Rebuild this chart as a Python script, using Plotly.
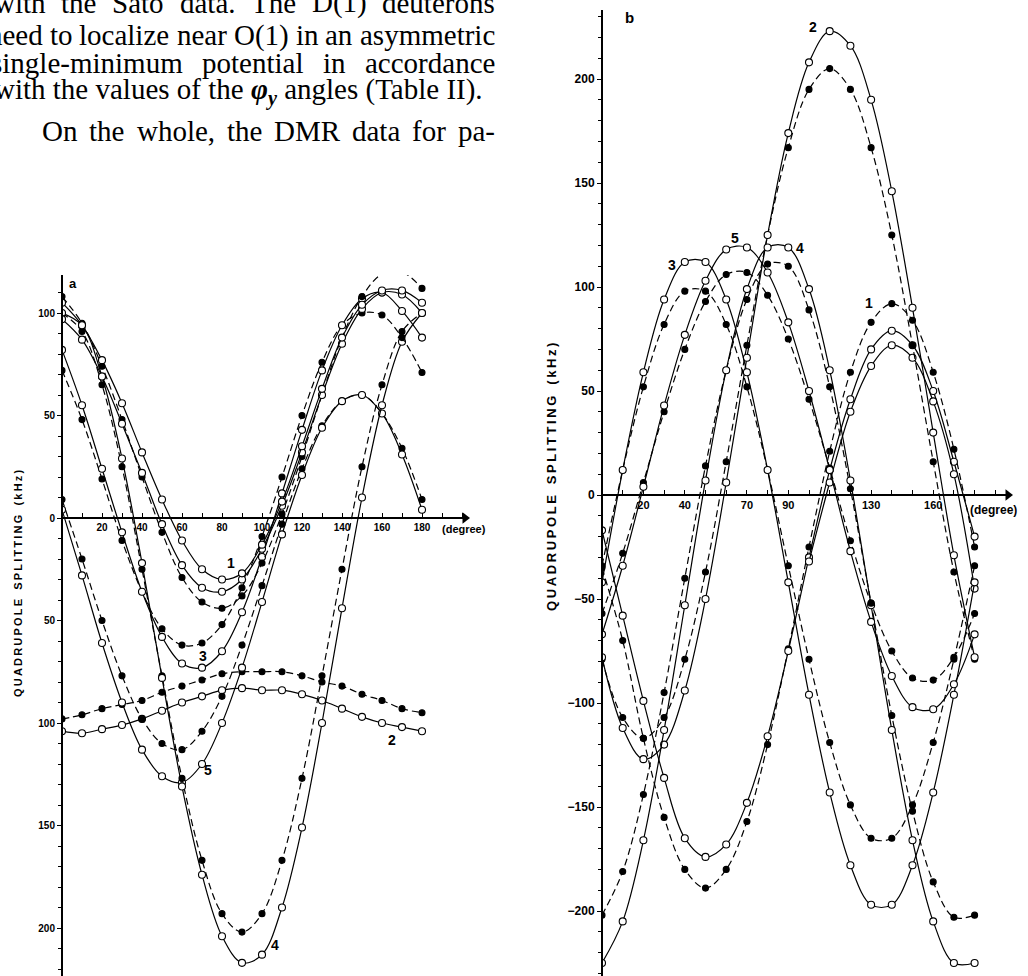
import plotly.graph_objects as go

W, H = 1028, 976

# ---------------- data ----------------
# Panel a : rotation angle (degree) and quadrupole splitting (kHz)
a_deg = [0, 10, 20, 30, 40, 50, 60, 70, 80, 90, 100, 110, 120, 130, 140, 150, 160, 170, 180]
a1_open = [105, 94, 77, 56, 32, 9, -11, -25, -30, -27, -13, 8, 35, 63, 88, 104, 111, 111, 105]
a1b_open = [97, 87, 69, 46, 22, -3, -23, -34, -36, -30, -15, 6, 32, 60, 85, 102, 110, 109, 100]
a1_fill = [108, 95, 74, 48, 20, -7, -29, -41, -44, -38, -22, 2, 30, 60, 88, 108, 119, 120, 112]
a2_open = [-104, -105, -103, -101, -98, -94, -90, -87, -84, -83, -84, -84, -86, -89, -93, -97, -100, -102, -104]
a2_fill = [-98, -96, -93, -91, -89, -85, -82, -79, -76, -75, -75, -75, -77, -80, -82, -86, -89, -93, -95]
a3_open = [82, 55, 24, -7, -36, -58, -71, -73, -65, -46, -19, 12, 43, 72, 94, 107, 110, 101, 88]
a3_fill = [72, 48, 19, -11, -36, -54, -62, -61, -52, -34, -9, 20, 50, 76, 94, 100, 99, 88, 71]
a4_open = [100, 94, 69, 29, -22, -78, -131, -174, -204, -217, -213, -190, -151, -100, -44, 10, 55, 86, 100]
a4_fill = [100, 91, 65, 25, -25, -77, -127, -167, -193, -202, -193, -167, -127, -77, -25, 25, 65, 91, 100]
a5_open = [4, -28, -61, -90, -113, -126, -129, -120, -100, -73, -41, -8, 21, 44, 57, 60, 51, 31, 4]
a5_fill = [9, -20, -50, -77, -98, -110, -113, -104, -87, -62, -33, -3, 24, 45, 57, 60, 51, 34, 9]

# Panel b
b_deg = [0, 10, 20, 30, 40, 50, 60, 70, 80, 90, 100, 110, 120, 130, 140, 150, 160, 170, 180]
b1_open = [-17, -58, -99, -136, -165, -174, -168, -148, -116, -75, -30, 12, 46, 70, 79, 72, 50, 16, -20]
b1b_open = [None, None, None, None, None, None, None, None, None, None, -32, 6, 40, 62, 72, 66, 45, 10, -45]
b1_fill = [-35, -70, -117, -155, -180, -189, -180, -157, -120, -74, -25, 21, 59, 83, 92, 84, 59, 22, -25]
b2_open = [-78, -112, -127, -120, -94, -50, 6, 66, 125, 174, 208, 223, 216, 190, 146, 90, 30, -29, -78]
b2_fill = [-79, -107, -117, -107, -79, -37, 16, 72, 125, 167, 195, 205, 195, 167, 125, 72, 16, -37, -79]
b3_open = [-42, 12, 59, 94, 112, 112, 94, 59, 12, -42, -96, -143, -178, -197, -197, -178, -143, -96, -42]
b3_fill = [-34, 12, 52, 82, 98, 98, 82, 52, 12, -34, -79, -119, -149, -165, -165, -149, -119, -79, -34]
b4_open = [-225, -205, -166, -113, -53, 7, 60, 99, 119, 119, 99, 60, 7, -53, -113, -166, -205, -225, -225]
b4_fill = [-202, -181, -144, -95, -40, 14, 60, 94, 111, 110, 89, 52, 3, -52, -106, -152, -186, -203, -202]
b5_open = [-67, -34, 4, 43, 77, 103, 118, 119, 107, 83, 50, 12, -27, -61, -87, -102, -103, -91, -67]
b5_fill = [-57, -28, 6, 40, 70, 93, 106, 107, 96, 75, 46, 13, -22, -52, -75, -88, -89, -78, -57]

# tick labels
a_xticks = [20, 40, 60, 80, 100, 120, 140, 160, 180]
a_yticks = [-200, -150, -100, -50, 0, 50, 100]
a_ytext = ["200", "150", "100", "50", "0", "50", "100"]
b_xticks = [20, 40, 70, 90, 130, 160]
b_yticks = [-200, -150, -100, -50, 0, 50, 100, 150, 200]
b_ytext = ["\u2212200", "\u2212150", "\u2212100", "\u221250", "0", "50", "100", "150", "200"]

paragraph = [
    "with the Sato data. The D(1) deuterons",
    "need to localize near O(1) in an asymmetric",
    "single-minimum potential in accordance",
    "with the values of the <b><i>\u03c6<sub>y</sub></i></b> angles (Table II).",
    "On the whole, the DMR data for pa-",
]

# ---------------- figure ----------------
def px(x):
    return x / W


def py(y):
    return 1 - y / H


fig = go.Figure()


def add_series(xs, ys, filled, panel):
    xa, ya = ("x", "y") if panel == "a" else ("x2", "y2")
    fig.add_trace(go.Scatter(
        x=xs, y=ys, xaxis=xa, yaxis=ya, mode="lines+markers",
        line=dict(color="black", width=1.2, dash="7px,4px" if filled else "solid",
                  shape="spline", smoothing=1.0),
        marker=dict(symbol="circle", size=6 if filled else 7,
                    color="black" if filled else "white",
                    line=dict(color="black", width=1.1)),
        connectgaps=False, showlegend=False, hoverinfo="skip"))


for ys, f in [(a2_fill, True), (a2_open, False), (a5_fill, True), (a5_open, False),
              (a4_fill, True), (a4_open, False), (a3_fill, True), (a3_open, False),
              (a1_fill, True), (a1b_open, False), (a1_open, False)]:
    add_series(a_deg, ys, f, "a")

for ys, f in [(b1_fill, True), (b1_open, False), (b1b_open, False),
              (b2_fill, True), (b2_open, False), (b3_fill, True), (b3_open, False),
              (b4_fill, True), (b4_open, False), (b5_fill, True), (b5_open, False)]:
    add_series(b_deg, ys, f, "b")

a_xmax = (465 - 62) / 2.0
b_xmax = (1008 - 602) / 2.07

# arrow heads at the ends of the angle axes
for xa, ya, xm in [("x", "y", a_xmax), ("x2", "y2", b_xmax)]:
    fig.add_trace(go.Scatter(x=[xm], y=[0], xaxis=xa, yaxis=ya, mode="markers",
                             marker=dict(symbol="triangle-right", size=10, color="black"),
                             cliponaxis=False, showlegend=False, hoverinfo="skip"))


def tf(size):
    return dict(family="Liberation Sans", size=size, color="black")


common = dict(showline=True, linecolor="black", showgrid=False, zeroline=False,
              tickcolor="black", tickmode="array")

fig.update_layout(
    width=W, height=H, margin=dict(l=0, r=0, t=0, b=0),
    paper_bgcolor="white", plot_bgcolor="rgba(0,0,0,0)",
    xaxis=dict(domain=[px(62), px(465)], range=[0, a_xmax], anchor="free", position=py(518),
               linewidth=2, ticks="inside", ticklen=4, tickwidth=1.3, tickfont=tf(10),
               tickvals=a_xticks, ticktext=["<b>%d</b>" % v for v in a_xticks],
               minor=dict(tickmode="linear", tick0=0, dtick=10, ticks="inside", ticklen=4,
                          tickwidth=1.2, tickcolor="black", showgrid=False),
               **common),
    yaxis=dict(domain=[0, py(275)], range=[-(976 - 518) / 2.05, (518 - 275) / 2.05],
               anchor="free", position=px(62),
               linewidth=2, ticks="outside", ticklen=4, tickwidth=1.3, tickfont=tf(10),
               tickvals=a_yticks, ticktext=["<b>%s</b>" % t for t in a_ytext],
               minor=dict(tickmode="linear", tick0=0, dtick=10, ticks="outside", ticklen=3,
                          tickwidth=1.1, tickcolor="black", showgrid=False),
               **common),
    xaxis2=dict(domain=[px(602), px(1008)], range=[0, b_xmax], anchor="free", position=py(495),
                linewidth=2, ticks="inside", ticklen=4, tickwidth=1.3, tickfont=tf(11),
                tickvals=b_xticks, ticktext=["<b>%d</b>" % v for v in b_xticks],
                minor=dict(tickmode="linear", tick0=0, dtick=10, ticks="inside", ticklen=4,
                           tickwidth=1.2, tickcolor="black", showgrid=False),
                **common),
    yaxis2=dict(domain=[0, py(10)], range=[-(976 - 495) / 2.08, (495 - 10) / 2.08],
                anchor="free", position=px(602),
                linewidth=2, ticks="outside", ticklen=4, tickwidth=1.3, tickfont=tf(12),
                tickvals=b_yticks, ticktext=["<b>%s</b>" % t for t in b_ytext],
                minor=dict(tickmode="linear", tick0=0, dtick=10, ticks="outside", ticklen=3,
                           tickwidth=1.1, tickcolor="black", showgrid=False),
                **common),
)

ann = []


def txt(x, y, s, size=11, family="Liberation Sans", angle=0, xanchor="center", bold=True):
    ann.append(dict(x=px(x), y=py(y), xref="paper", yref="paper", showarrow=False,
                    text=("<b>%s</b>" % s) if bold else s, textangle=angle,
                    xanchor=xanchor, yanchor="middle",
                    font=dict(family=family, size=size, color="black")))


txt(464, 529, "(degree)", 11)
txt(993, 510, "(degree)", 12)


def spaced(word):
    return "\u2009".join(list(word))


gap = "\u00a0\u00a0\u00a0"
ytitle = gap.join(spaced(w) for w in ["QUADRUPOLE", "SPLITTING", "(kHz)"])
txt(18, 584, ytitle, 11, angle=-90)
txt(551, 477, ytitle, 13, angle=-90)
txt(73, 283, "a", 13)
txt(629, 17, "b", 15)

# curve numbers
for (x, y, s) in [(231, 563, "1"), (203, 656, "3"), (392, 740, "2"), (208, 770, "5"), (275, 945, "4"),
                  (813, 27, "2"), (735, 238, "5"), (672, 265, "3"), (800, 248, "4"), (869, 303, "1")]:
    txt(x, y, s, 14)

# ---- paragraph text at top left (justified like the printed page) ----
FS = 29
TW = {" ": 250, "a": 444, "b": 500, "c": 444, "d": 500, "e": 444, "f": 333, "g": 500, "h": 500,
      "i": 278, "l": 278, "m": 778, "n": 500, "o": 500, "p": 500, "r": 333, "s": 389, "t": 278,
      "u": 500, "v": 500, "w": 722, "y": 500, "z": 444, "-": 333, ".": 250, ",": 250, "(": 333,
      ")": 333, "1": 500, "D": 722, "M": 889, "O": 722, "R": 667, "S": 556, "T": 611, "I": 333}


def width(word):
    return sum(TW.get(c, 500) for c in word) / 1000.0 * FS


def justify(line, x0, x1, y):
    words = line.split(" ")
    total = sum(width(w) for w in words)
    g = (x1 - x0 - total) / (len(words) - 1)
    x = x0
    for w in words:
        txt(x, y, w, FS, family="Liberation Serif", xanchor="left", bold=False)
        x += width(w) + g


justify(paragraph[0], -8, 493, 3)
justify(paragraph[1], -14, 493, 35)
justify(paragraph[2], -11, 493, 63)
txt(-8, 91, paragraph[3], FS, family="Liberation Serif", xanchor="left", bold=False)
justify(paragraph[4], 40, 493, 131)

fig.update_layout(annotations=ann)
fig.write_html("out.html")
